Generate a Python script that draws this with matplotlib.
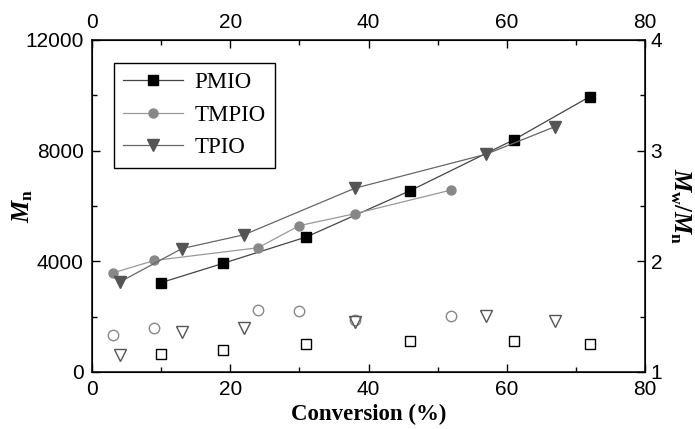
import matplotlib
matplotlib.use('Agg')
import matplotlib.pyplot as plt
from matplotlib.ticker import MultipleLocator

plt.rcParams['font.family'] = 'Liberation Sans'
plt.rcParams['mathtext.fontset'] = 'custom'
plt.rcParams['mathtext.it'] = 'Liberation Serif:italic:bold'
plt.rcParams['mathtext.rm'] = 'Liberation Serif:bold'

# Mn vs conversion
pm_x = [10, 19, 31, 46, 61, 72]
pm_mn = [3230, 3930, 4880, 6550, 8390, 9950]
tm_x = [3, 9, 24, 30, 38, 52]
tm_mn = [3580, 4030, 4490, 5290, 5720, 6580]
tp_x = [4, 13, 22, 38, 57, 67]
tp_mn = [3250, 4460, 4960, 6640, 7870, 8870]

# PDI (Mw/Mn) vs conversion
pm_pdi = [1.16, 1.20, 1.25, 1.28, 1.28, 1.25]
tm_pdi = [1.33, 1.40, 1.56, 1.55, 1.47, 1.51]
tp_pdi = [1.15, 1.36, 1.40, 1.45, 1.51, 1.46]

labels = ['PMIO', 'TMPIO', 'TPIO']

fig = plt.figure(figsize=(6.95, 4.29), dpi=100)
ax = fig.add_axes([0.1324, 0.1329, 0.7957, 0.7739])
ax2 = ax.twinx()

c_pm, c_tm, c_tp = 'black', '#888888', '#555555'
l_pm, l_tm, l_tp = '#444444', '#999999', '#666666'

ax.plot(pm_x, pm_mn, color=l_pm, lw=0.9, marker='s', ms=6.5, mfc=c_pm, mec=c_pm, label=labels[0])
ax.plot(tm_x, tm_mn, color=l_tm, lw=0.9, marker='o', ms=6.5, mfc=c_tm, mec=c_tm, label=labels[1])
ax.plot(tp_x, tp_mn, color=l_tp, lw=0.9, marker='v', ms=8, mfc=c_tp, mec=c_tp, label=labels[2])

ax2.plot(pm_x, pm_pdi, ls='none', marker='s', ms=6.5, mfc='white', mec=c_pm, mew=1)
ax2.plot(tm_x, tm_pdi, ls='none', marker='o', ms=7.5, mfc='none', mec=c_tm, mew=1)
ax2.plot(tp_x, tp_pdi, ls='none', marker='v', ms=8.5, mfc='none', mec=c_tp, mew=1)

ax.set_xlim(0, 80)
ax.set_ylim(0, 12000)
ax2.set_ylim(1, 4)

ax.xaxis.set_major_locator(MultipleLocator(20))
ax.xaxis.set_minor_locator(MultipleLocator(10))
ax.yaxis.set_major_locator(MultipleLocator(4000))
ax.yaxis.set_minor_locator(MultipleLocator(2000))
ax2.yaxis.set_major_locator(MultipleLocator(1))
ax2.yaxis.set_minor_locator(MultipleLocator(0.5))

ax.tick_params(which='both', direction='in', top=True, labeltop=True, labelsize=15, width=1)
ax.tick_params(which='major', length=6)
ax.tick_params(which='minor', length=3.5)
ax.tick_params(axis='y', right=False, pad=6)
ax.tick_params(axis='x', pad=6)
ax2.tick_params(which='both', direction='in', labelsize=15, width=1, pad=4)
ax2.tick_params(which='major', length=6)
ax2.tick_params(which='minor', length=3.5)

for sp in ax.spines.values():
    sp.set_linewidth(1.1)

ax.set_xlabel('Conversion (%)', family='Liberation Serif', weight='bold', fontsize=16.5, labelpad=3)
ax.set_ylabel(r'$M_\mathrm{n}$', fontsize=18, labelpad=-7)
ax2.set_ylabel(r'$M_\mathrm{w}/M_\mathrm{n}$', fontsize=18, rotation=270, labelpad=22)

leg = ax.legend(loc='upper left', bbox_to_anchor=(0.04, 0.93), borderaxespad=0,
                prop={'family': 'Liberation Serif', 'size': 16.5}, fancybox=False,
                edgecolor='black', framealpha=1, handlelength=2.6, handletextpad=0.5,
                labelspacing=0.5)
leg.get_frame().set_linewidth(1)

fig.savefig('out.png', dpi=100)
